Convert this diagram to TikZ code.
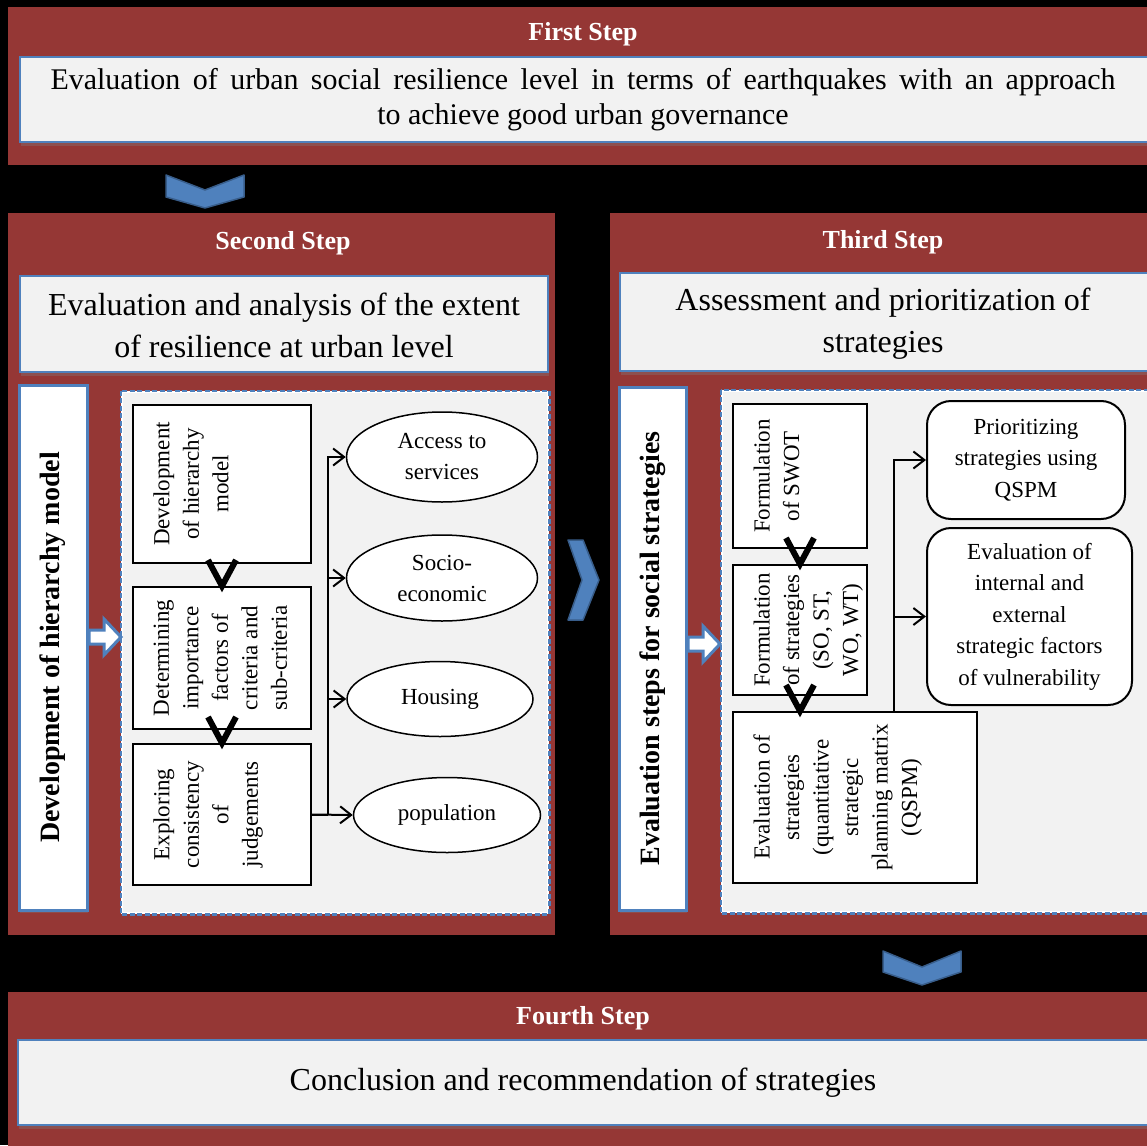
\documentclass[tikz,border=0pt]{standalone}
\usepackage{fontspec}
\setmainfont{Liberation Serif}
\usetikzlibrary{arrows.meta,shapes.geometric,shadows}
\definecolor{panelred}{RGB}{149,55,53}
\definecolor{boxblue}{RGB}{79,129,189}
\definecolor{darkblue}{RGB}{56,93,138}
\definecolor{lightgray}{RGB}{242,242,242}
\begin{document}
\begin{tikzpicture}[x=1pt,y=-1pt,
  panel/.style={fill=panelred},
  headbox/.style={rectangle, draw=boxblue, fill=lightgray, line width=2pt, inner sep=0pt,
    drop shadow={shadow xshift=1pt, shadow yshift=-4pt, opacity=0.35}},
  steptitle/.style={text=white, font=\fontsize{26}{30}\selectfont\bfseries},
  headtext/.style={font=\fontsize{32}{42}\selectfont, align=center},
  vbox/.style={rectangle, draw=boxblue, fill=white, line width=3pt, inner sep=0pt,
    drop shadow={shadow xshift=1pt, shadow yshift=-3pt, opacity=0.3}},
  vlabel/.style={rotate=90, font=\fontsize{28}{32}\selectfont\bfseries},
  dashbox/.style={rectangle, draw=white, fill=lightgray, line width=2.5pt, inner sep=0pt},
  dashline/.style={draw=boxblue, line width=2.5pt, dash pattern=on 5pt off 2.5pt},
  stepbox/.style={rectangle, draw=black, fill=white, line width=2pt, inner sep=0pt},
  steptext/.style={rotate=90, anchor=north, align=center, font=\fontsize{23}{29.5}\selectfont},
  factor/.style={ellipse, draw=black, fill=white, line width=1.5pt, inner sep=0pt, align=center,
    font=\fontsize{23}{31}\selectfont},
  roundbox/.style={rectangle, rounded corners=24pt, draw=black, fill=white, line width=2pt,
    align=center, font=\fontsize{23}{31.5}\selectfont, inner sep=0pt},
  conn/.style={line width=2pt, -{Straight Barb[length=11pt,width=17pt]}},
  trunk/.style={line width=2pt},
  vchev/.style={line width=6pt, line join=miter},
  chev/.style={fill=boxblue, draw=darkblue, line width=1.5pt, line join=round},
  blockarrow/.style={fill=white, draw=boxblue, line width=3pt, line join=miter}
]
\useasboundingbox (0,0) rectangle (1147,1145);
\clip (0,0) rectangle (1147,1145);
\fill[black] (0,0) rectangle (1147,1145);

% panels
\fill[panel] (8,7) rectangle (1160,165);
\fill[panel] (8,213) rectangle (555,935);
\fill[panel] (610,213) rectangle (1160,935);
\fill[panel] (8,992) rectangle (1160,1160);

% titles
\node[steptitle] (t1) at (583,34) {First Step};
\node[steptitle] (t2) at (283,243) {Second Step};
\node[steptitle] (t3) at (883,242) {Third Step};
\node[steptitle] (t4) at (583,1018) {Fourth Step};

% heading boxes
\node[headbox, minimum width=1140, minimum height=85] (h1) at (590,99.5) {};
\node[font=\fontsize{30}{35}\selectfont, align=center] (h1t) at (583,100)
  {\makebox[1065pt][s]{Evaluation of urban social resilience level in terms of earthquakes with an approach}\\to achieve good urban governance};
\node[headbox, minimum width=528, minimum height=96] (h2) at (284,324) {};
\node[headtext] (h2t) at (284,325) {Evaluation and analysis of the extent\\of resilience at urban level};
\node[headbox, minimum width=540, minimum height=98] (h3) at (890,322) {};
\node[headtext] (h3t) at (883,324) {Assessment and prioritization of\\strategies};
\node[headbox, minimum width=1142, minimum height=85] (h4) at (589,1082.5) {};
\node[headtext] (h4t) at (583,1083) {Conclusion and recommendation of strategies};

% vertical label boxes
\node[vbox, minimum width=68, minimum height=525] (vl) at (53,647.5) {};
\node[vlabel] (vlt) at (vl.center) {Development of hierarchy model};
\node[vbox, minimum width=67, minimum height=523] (vr) at (652.5,648.5) {};
\node[vlabel] (vrt) at (vr.center) {Evaluation steps for social strategies};

% dashed containers
\node[dashbox, minimum width=426, minimum height=521] (dl) at (335,652.5) {};
\draw[dashline] (dl.north west) rectangle (dl.south east);
\node[dashbox, minimum width=438, minimum height=521] (dr) at (941,651.5) {};
\draw[dashline] (dr.north west) rectangle (dr.south east);

% block arrows
\draw[blockarrow] (89,630) -- (104,630) -- (104,619) -- (121,637) -- (104,655) -- (104,644) -- (89,644) -- cycle;
\draw[blockarrow] (688,637) -- (703,637) -- (703,626) -- (720,644) -- (703,662) -- (703,651) -- (688,651) -- cycle;

% chevrons
\draw[chev] (166,175) -- (205,190) -- (244,175) -- (244,197) -- (205,208) -- (166,197) -- cycle;
\draw[chev] (568,540) -- (583,540) -- (599,580) -- (583,620) -- (568,620) -- (582,580) -- cycle;
\draw[chev] (883,951) -- (922,967) -- (961,951) -- (961,972) -- (922,985) -- (883,972) -- cycle;

% left step boxes
\node[stepbox, minimum width=178, minimum height=158] (b1) at (222,484) {};
\node[steptext] (b1t) at ([xshift=18pt]b1.west) {Development\\of hierarchy\\model};
\node[stepbox, minimum width=178, minimum height=142] (b2) at (222,658) {};
\node[steptext] (b2t) at ([xshift=18pt]b2.west) {Determining\\importance\\factors of\\criteria and\\sub-criteria};
\node[stepbox, minimum width=178, minimum height=141] (b3) at (222,814.5) {};
\node[steptext] (b3t) at ([xshift=18pt]b3.west) {Exploring\\consistency\\of\\judgements};
\draw[vchev] ([shift={(-14,-26)}]b2.north) -- (b2.north) -- ([shift={(14,-26)}]b2.north);
\draw[vchev] ([shift={(-14,-26)}]b3.north) -- (b3.north) -- ([shift={(14,-26)}]b3.north);

% factors
\node[factor, minimum width=191, minimum height=90] (acc) at (442,457) {Access to\\services};
\node[factor, minimum width=191, minimum height=86] (soc) at (442,578) {Socio-\\economic};
\node[factor, minimum width=186, minimum height=75] (hou) at (440,699) {Housing};
\node[factor, minimum width=187, minimum height=75] (pop) at (447,815) {population};

\coordinate (jx) at (328,0);
\draw[conn] (b3.east) -- (pop.west);
\draw[trunk] (b3.east) -- (b3.east -| jx);
\draw[conn] (b3.east -| jx) |- (acc.west);
\draw[conn] (b3.east -| jx) |- (soc.west);
\draw[conn] (b3.east -| jx) |- (hou.west);

% right step boxes
\node[stepbox, minimum width=134, minimum height=144] (s1) at (800,476) {};
\node[steptext] (s1t) at ([xshift=18pt]s1.west) {Formulation\\of SWOT};
\node[stepbox, minimum width=134, minimum height=130] (s2) at (800,630) {};
\node[steptext] (s2t) at ([xshift=18pt]s2.west) {Formulation\\of strategies\\(SO, ST,\\WO, WT)};
\node[stepbox, minimum width=244, minimum height=171] (s3) at (855,797.5) {};
\node[steptext] (s3t) at ([xshift=18pt]s3.west) {Evaluation of\\strategies\\(quantitative\\strategic\\planning matrix\\(QSPM)};
\draw[vchev] ([shift={(-14,-26)}]s2.north) -- (s2.north) -- ([shift={(14,-26)}]s2.north);
\draw[vchev] ([shift={(-14,-26)}]s2.south |- s3.north) -- (s2.south |- s3.north) -- ([shift={(14,-26)}]s2.south |- s3.north);

\node[roundbox, minimum width=198, minimum height=118] (r1) at (1026,460) {Prioritizing\\strategies using\\QSPM};
\node[roundbox, minimum width=205, minimum height=177] (r2) at (1029.5,616.5) {Evaluation of\\internal and\\external\\strategic factors\\of vulnerability};

\coordinate (jrx) at (894,0);
\coordinate (jr) at (s3.north -| jrx);
\draw[conn] (jr) |- (r1.west);
\draw[conn] (jr) |- (r2.west);
\end{tikzpicture}
\end{document}
